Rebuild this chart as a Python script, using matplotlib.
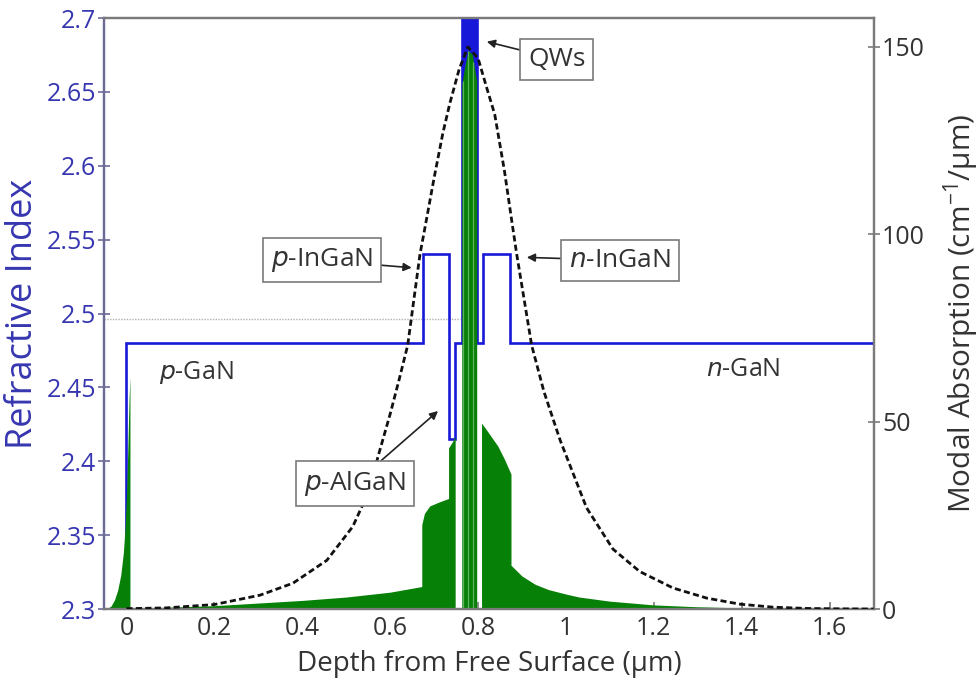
import matplotlib
matplotlib.use('Agg')
import matplotlib.pyplot as plt
from matplotlib.ticker import FormatStrFormatter

plt.rcParams['font.family'] = ['Open Sans', 'DejaVu Sans']
plt.rcParams['mathtext.default'] = 'regular'

# ---------------- data ----------------
# refractive index profile: layer boundaries (um) and index of each layer
layer_edges = [-0.05, 0.0, 0.675, 0.735, 0.748, 0.763, 0.797, 0.812, 0.873, 1.7]
layer_index = [1.0, 2.48, 2.54, 2.415, 2.48, 2.76, 2.48, 2.54, 2.48]
gan_index = 2.48

# quantum-well stack (um) and its index
qw_edges = [0.763, 0.797]
qw_index = 2.76
qw_barriers = [0.766, 0.778, 0.789]
qw_barrier_abs = [141, 149, 146]

# effective index (dotted grey line)
neff_x = [-0.05, 0.760]
neff_y = [2.496, 2.496]

# optical mode profile (dashed, right axis units)
mode_x = [0.0, 0.09, 0.2, 0.304, 0.379, 0.456, 0.515, 0.554, 0.572, 0.60, 0.62,
          0.640, 0.668, 0.679, 0.70, 0.72, 0.736, 0.757, 0.777, 0.80, 0.82,
          0.838, 0.86, 0.880, 0.888, 0.922, 0.95, 0.987, 1.047, 1.107, 1.168,
          1.244, 1.321, 1.396, 1.471, 1.55, 1.62, 1.70]
mode_y = [0.1, 0.3, 1.2, 3.7, 6.9, 13, 22, 32, 40.5, 52, 61,
          70.4, 94.7, 101.6, 115, 127, 135, 144, 150, 147, 139,
          132, 117, 101, 94.7, 70.4, 58, 45, 27, 16, 10,
          5.6, 2.9, 1.3, 0.5, 0.15, 0.05, 0.0]

# modal absorption (green, right axis)
abs_x = [-0.045, -0.035, -0.027, -0.02, -0.013, -0.007, -0.003, 0.0, 0.003, 0.006, 0.008,
         0.008, 0.1, 0.2, 0.3, 0.4, 0.5, 0.6, 0.672,
         0.672, 0.678, 0.69, 0.71, 0.733,
         0.733, 0.741, 0.748,
         0.748, 0.763,
         0.763, 0.770, 0.778, 0.787, 0.797,
         0.797, 0.808,
         0.808, 0.815, 0.83, 0.845, 0.86, 0.875,
         0.875, 0.9, 0.93, 0.96, 1.0, 1.03, 1.1, 1.2, 1.3, 1.4, 1.5, 1.6, 1.7]
abs_y = [0, 0.8, 2.5, 5, 9, 15, 22, 30, 42, 56, 62,
         0.2, 0.5, 0.9, 1.6, 2.3, 3.2, 4.5, 6,
         22.5, 25.5, 27.5, 28.5, 29.5,
         43, 44.5, 46,
         0, 0,
         140, 145, 149, 148, 141,
         0, 0,
         49.6, 48.5, 46, 43.5, 40, 36,
         11.7, 8.8, 6.6, 5.2, 4.0, 3.2, 2.1, 1.1, 0.6, 0.3, 0.12, 0.04, 0]

x_ticks = [0, 0.2, 0.4, 0.6, 0.8, 1.0, 1.2, 1.4, 1.6]
left_ticks = [2.3, 2.35, 2.4, 2.45, 2.5, 2.55, 2.6, 2.65, 2.7]
right_ticks = [0, 50, 100, 150]

# ---------------- style ----------------
BLUE = '#1818d8'
LBLUE = '#3636b0'
GREEN = '#078007'
SPINE = '#7a7a7a'
TXT = '#333333'
FS_TICK = 18
FS_BOX = 19

fig = plt.figure(figsize=(9.79, 6.83), dpi=100)
ax = fig.add_axes([0.1067, 0.1083, 0.7856, 0.8653])
ax2 = ax.twinx()

ax.plot(neff_x, neff_y, color='#b0b0b0', lw=1.0, ls=(0, (1, 1)), zorder=1)
ax.fill_between(qw_edges, gan_index, qw_index, color=BLUE, lw=0, zorder=2)
ax.stairs(layer_index, layer_edges, color=BLUE, lw=1.9, baseline=None, zorder=3)

ax2.fill_between(abs_x, 0, abs_y, color=GREEN, lw=0, zorder=2)
ax2.vlines(qw_barriers, 0, qw_barrier_abs, color='#5fb35f', lw=0.9, zorder=2.5)
ax2.plot(mode_x, mode_y, color='#111111', lw=2.0, ls=(0, (2.2, 1.2)), zorder=3)

ax.set_xlim(-0.05, 1.7)
ax.set_ylim(2.3, 2.7)
ax2.set_ylim(0, 157.7)

ax.set_xticks(x_ticks)
ax.set_yticks(left_ticks)
ax2.set_yticks(right_ticks)
ax.xaxis.set_major_formatter(FormatStrFormatter('%g'))
ax.yaxis.set_major_formatter(FormatStrFormatter('%g'))

for a in (ax, ax2):
    for s in a.spines.values():
        s.set_color(SPINE)
        s.set_linewidth(1.6)
ax2.spines['left'].set_color('#6a6a9a')

ax.tick_params(axis='x', direction='in', length=5, width=1.2, color=SPINE,
               labelsize=FS_TICK, labelcolor=TXT, pad=5)
ax.tick_params(axis='y', direction='inout', length=8, width=1.2, color='#6a6a9a',
               labelsize=FS_TICK, labelcolor=LBLUE, pad=2)
ax2.tick_params(axis='y', direction='inout', length=8, width=1.2, color=SPINE,
                labelsize=FS_TICK, labelcolor=TXT, pad=2)

ax.set_xlabel('Depth from Free Surface (\u00b5m)', fontsize=20, color=TXT, va='top')
ax.xaxis.set_label_coords(0.5, -0.070)
ax.set_ylabel('Refractive Index', fontsize=26, color=LBLUE)
ax.yaxis.set_label_coords(-0.082, 0.50)
ax2.set_ylabel('Modal Absorption (cm$^{-1}$/\u00b5m)', fontsize=21.5, color=TXT)
ax2.yaxis.set_label_coords(1.088, 0.50)

box = dict(boxstyle='square,pad=0.3', fc='white', ec='#7a7a7a', lw=1.2)
arr = dict(arrowstyle='-|>', color='#222222', lw=1.2, mutation_scale=12, shrinkA=0, shrinkB=0)
tr = ax.transData

ax2.annotate('QWs', xy=(0.820, 2.684), xytext=(0.979, 2.6722), xycoords=tr, textcoords=tr,
             fontsize=FS_BOX, color=TXT, ha='center', va='center', bbox=box, arrowprops=arr, zorder=10)
ax2.annotate('$\\it{p}$-InGaN', xy=(0.649, 2.531), xytext=(0.444, 2.536), xycoords=tr, textcoords=tr,
             fontsize=FS_BOX, color=TXT, ha='center', va='center', bbox=box, arrowprops=arr, zorder=10)
ax2.annotate('$\\it{n}$-InGaN', xy=(0.911, 2.538), xytext=(1.123, 2.536), xycoords=tr, textcoords=tr,
             fontsize=FS_BOX, color=TXT, ha='center', va='center', bbox=box, arrowprops=arr, zorder=10)
ax2.annotate('$\\it{p}$-AlGaN', xy=(0.709, 2.434), xytext=(0.520, 2.385), xycoords=tr, textcoords=tr,
             fontsize=FS_BOX, color=TXT, ha='center', va='center', bbox=box, arrowprops=arr, zorder=10)
ax2.text(0.158, 2.4604, '$\\it{p}$-GaN', transform=tr, fontsize=18, color=TXT,
         ha='center', va='center', zorder=10)
ax2.text(1.403, 2.4618, '$\\it{n}$-GaN', transform=tr, fontsize=18, color=TXT,
         ha='center', va='center', zorder=10)

fig.savefig('out.png', dpi=100)
